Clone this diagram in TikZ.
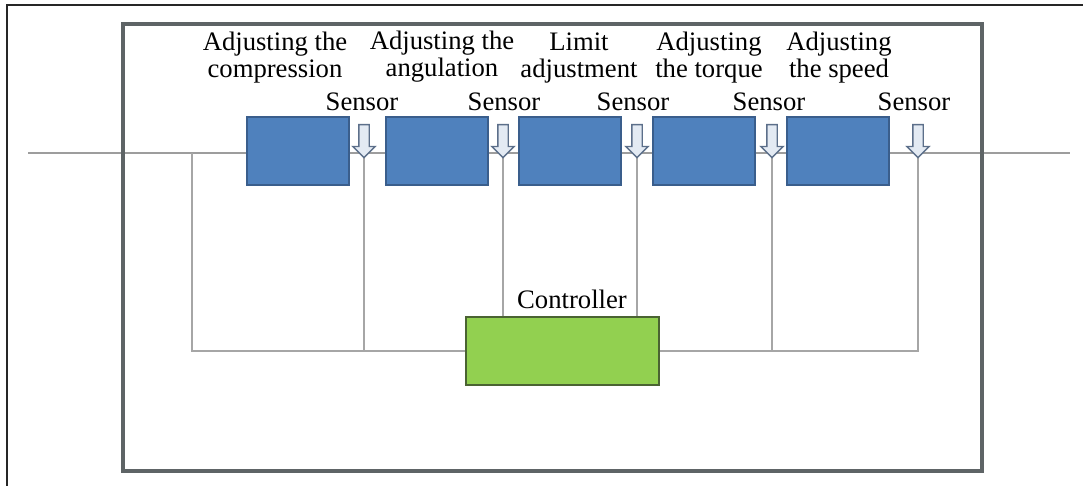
\documentclass[tikz,border=0pt]{standalone}
\usepackage{fontspec}
\setmainfont{Liberation Serif}
\usetikzlibrary{shapes.arrows,backgrounds}
\definecolor{boxblue}{HTML}{4F81BD}
\definecolor{boxedge}{HTML}{3A5E8C}
\definecolor{ctrlgreen}{HTML}{92D050}
\definecolor{ctrledge}{HTML}{4A6332}
\definecolor{framegray}{HTML}{5E6466}
\definecolor{linegray}{HTML}{A6A6A6}
\definecolor{arrowfill}{HTML}{E3EAF3}
\definecolor{arrowedge}{HTML}{5C6F8A}
\begin{document}
\begin{tikzpicture}[x=0.75pt,y=-0.75pt,
  lbl/.style={font=\fontsize{20}{20.25}\selectfont, inner sep=0pt, align=center, text=black},
  block/.style={draw=boxedge, fill=boxblue, line width=1.5pt, minimum width=76.5pt, minimum height=51pt, inner sep=0pt},
  ctrlbox/.style={draw=ctrledge, fill=ctrlgreen, line width=1.8pt, minimum width=144.75pt, minimum height=51pt, inner sep=0pt},
  sensorarrow/.style={single arrow, draw=arrowedge, fill=arrowfill, line width=1pt, rotate=-90,
    inner sep=3.375pt, outer sep=0pt, single arrow head extend=4.5pt, minimum height=24.75pt},
  wire/.style={draw=linegray, line width=1.1pt},
  mainwire/.style={draw=linegray!110, line width=1.2pt}]
\useasboundingbox (0,0) rectangle (1083,486);
% outer frame (cut)
\coordinate (ofb) at (7,486);
\coordinate (oft) at (7,5);
\coordinate (ofr) at (1083,5);
\draw[black!85, line width=1.5pt] (ofb) -- (oft) -- (ofr);
% inner frame
\coordinate (ifa) at (123,24);
\coordinate (ifb) at (982,471);
\draw[framegray, line width=2.6pt] (ifa) rectangle (ifb);
% blocks
\node[block] (b1) at (298,151) {};
\node[block] (b2) at (437,151) {};
\node[block] (b3) at (569.5,151) {};
\node[block] (b4) at (703.5,151) {};
\node[block] (b5) at (837.5,151) {};
% sensor arrows
\node[sensorarrow] (s1) at (364,138.5) {};
\node[sensorarrow] (s2) at (503,138.5) {};
\node[sensorarrow] (s3) at (637,138.5) {};
\node[sensorarrow] (s4) at (772,138.5) {};
\node[sensorarrow] (s5) at (918,138.5) {};
% controller
\node[ctrlbox] (ctrl) at (562.5,351) {};
% wires
\coordinate (in) at (28,153);
\coordinate (out) at (1070,153);
\coordinate (tap) at (192,153);
\begin{scope}[on background layer]
\draw[mainwire] (in) -- (out);
\draw[wire] (tap) -- (tap |- ctrl.west) -- (ctrl.west);
\draw[wire] (s1.tip) -- (s1.tip |- ctrl.west);
\draw[wire] (s2.tip) -- (s2.tip |- ctrl.north);
\draw[wire] (s3.tip) -- (s3.tip |- ctrl.north);
\draw[wire] (s4.tip) -- (s4.tip |- ctrl.east);
\draw[wire] (s5.tip) -- (s5.tip |- ctrl.east) -- (ctrl.east);
\end{scope}
% labels
\node[lbl, anchor=south] (l1) at (275,83) {Adjusting the\\compression};
\node[lbl, anchor=south] (l2) at (442,83) {Adjusting the\\angulation};
\node[lbl, anchor=south] (l3) at (579,83) {Limit\\adjustment};
\node[lbl, anchor=south] (l4) at (709,83) {Adjusting\\the torque};
\node[lbl, anchor=south] (l5) at (839,83) {Adjusting\\the speed};
\node[lbl, anchor=base] (t1) at (362,110) {Sensor};
\node[lbl, anchor=base] (t2) at (504,110) {Sensor};
\node[lbl, anchor=base] (t3) at (633,110) {Sensor};
\node[lbl, anchor=base] (t4) at (769,110) {Sensor};
\node[lbl, anchor=base] (t5) at (914,110) {Sensor};
\node[lbl, anchor=base] (tc) at (572,308) {Controller};
\end{tikzpicture}
\end{document}
